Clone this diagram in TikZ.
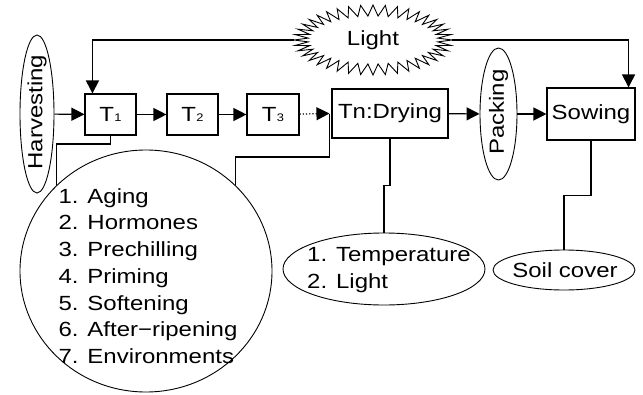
\documentclass[tikz,border=0pt]{standalone}
\usepackage{fontspec}
\setmainfont{Liberation Sans}[FakeStretch=1.17]
\usetikzlibrary{arrows.meta,shapes.geometric,calc}
\newcommand\mysubd[1]{\kern0.5pt{\fontsize{11}{11}\selectfont #1}}
\begin{document}
\begin{tikzpicture}[x=1pt,y=-1pt,
  every node/.style={font=\fontsize{20.5}{26.7}\selectfont, inner sep=0pt},
  box/.style={draw, line width=1.1pt},
  oval/.style={draw, ellipse, line width=0.9pt},
  conn/.style={line width=1.2pt},
  arr/.style={line width=1.2pt, -{Triangle[length=13pt,width=13pt]}}]
\useasboundingbox (0,0) rectangle (643,394);
% main row
\node[oval, minimum width=34, minimum height=158] (harv) at (37,114) {};
\node[rotate=90] (harvtxt) at (37,112) {Harvesting};
\node[box, minimum width=51, minimum height=41] (t1) at (110.5,114.5) {T\mysubd{1}};
\node[box, minimum width=51, minimum height=41] (t2) at (192.5,114.5) {T\mysubd{2}};
\node[box, minimum width=52, minimum height=41] (t3) at (273,114.5) {T\mysubd{3}};
\node[box, minimum width=116, minimum height=49] (tn) at (390,113.5) {Tn:Drying};
\node[oval, minimum width=37, minimum height=132] (pack) at (498.5,114) {};
\node[rotate=90] (packtxt) at (498.5,112) {Packing};
\node[box, minimum width=88, minimum height=52] (sow) at (591,114) {Sowing};
% light
\node[ellipse, minimum width=158, minimum height=70] (light) at (373,40) {};
\node (lighttxt) at (373,40) {Light};
\draw[line width=0.9pt] plot[samples=81, domain=0:80, variable=\k]
  ({373+(72+7*cos(180*\k))*cos(4.5*\k)}, {40+(29.5+5.5*cos(180*\k))*sin(4.5*\k)}) -- cycle;
% lower ellipses
\node[oval, minimum width=252, minimum height=242] (list) at (146,271) {};
\node[align=left] (listtxt) at (148,276) {1. Aging\\2. Hormones\\3. Prechilling\\4. Priming\\5. Softening\\6. After\textminus ripening\\7. Environments};
\node[oval, minimum width=202, minimum height=72] (temp) at (384,269) {};
\node[align=left] (temptxt) at (389,270) {1. Temperature\\2. Light};
\node[oval, minimum width=142, minimum height=40] (soil) at (564,270) {};
\node (soiltxt) at (565,270) {Soil cover};
% coordinates
\coordinate (tnin) at ($(tn.west)+(-2,0)$);
\coordinate (t1in) at ($(t1.north west)+(8,0)$);
\coordinate (sowin) at ($(sow.north east)+(-7,0)$);
\coordinate (e3) at (0,157);
% arrows
\draw[arr] (harv) -- (t1);
\draw[arr] (t1) -- (t2);
\draw[arr] (t2) -- (t3);
\draw[arr, dotted] (t3) -- (tnin);
\draw[arr] (tn) -- (pack);
\draw[arr] (pack) -- (sow);
\draw[arr] (light.west) -| (t1in);
\draw[arr] (light.east) -| (sowin);
% connectors
\draw[conn] (t1.south) -- ++(0,8.5) -| (list.136);
\draw[conn] (list.44) -- (list.44 |- e3) -| (tnin);
\draw[conn] (tn.south) -- ++(0,47) -| (temp.north);
\draw[conn] (sow.south) -- ++(0,55) -| (soil.north);
\end{tikzpicture}
\end{document}
